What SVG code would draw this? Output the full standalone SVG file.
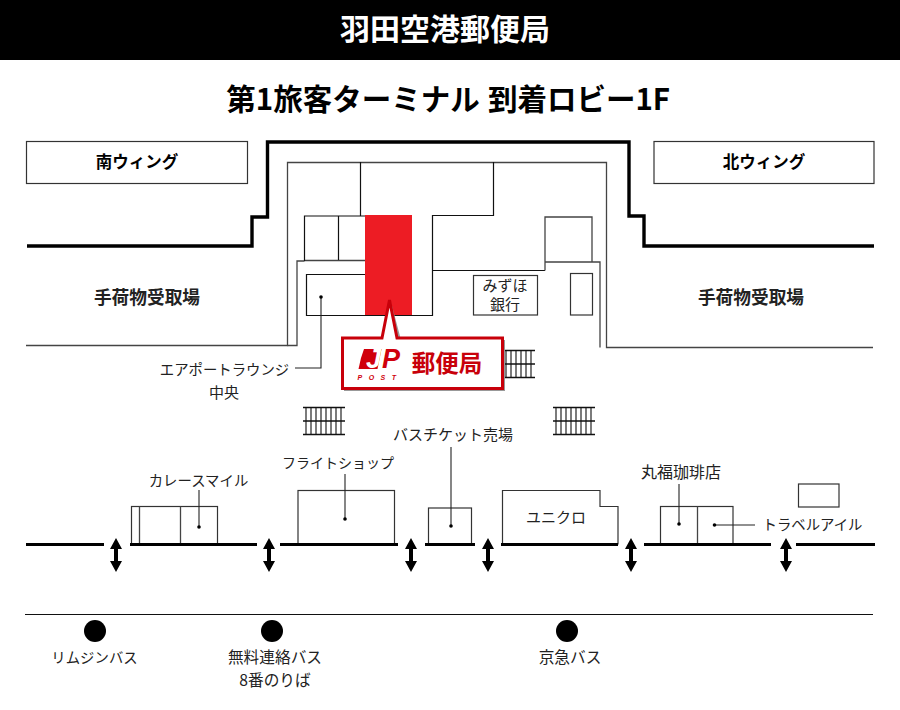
<svg xmlns="http://www.w3.org/2000/svg" width="900" height="710" viewBox="0 0 900 710">
<style>
text{font-family:"Noto Sans CJK JP","Noto Sans",sans-serif;fill:#222;font-size:14.400px;text-anchor:middle}
.b{font-weight:700;fill:#000}
.m{font-size:15.700px}
.h{font-weight:700;font-size:17.700px}
.wing{font-weight:700;fill:#000;font-size:16.500px}
.w{fill:none;stroke:#111;stroke-width:1.2}
.g{fill:none;stroke:#444;stroke-width:1.300}
.t{fill:none;stroke:#000;stroke-width:3.400}
.l{fill:none;stroke:#222;stroke-width:1.100}
.box{fill:#fff;stroke:#333;stroke-width:1.200}
.d{fill:#000}
</style>
<defs>
<g id="arrow"><path d="M0 0L6 11H2V23H6L0 34L-6 23H-2V11H-6Z" fill="#000"/></g>
<g id="stairs" fill="none" stroke="#111" stroke-width="1.100">
<path d="M0 .5H42M0 14H42M0 27.500H42" stroke-width="1.300"/>
<path d="M3 0V27M8 0V27M13 0V27M18 0V27M23 0V27M28 0V27M33 0V27M38 0V27"/>
</g>
</defs>
<rect width="900" height="60" fill="#000"/>
<text x="445" y="40" class="b" style="font-size:30px;fill:#fff">羽田空港郵便局</text>
<text x="353" y="110" class="b" style="font-size:29.500px">第1旅客ターミナル</text>
<text x="579" y="110" class="b" style="font-size:29.500px">到着ロビー1F</text>

<g id="south-wing"><rect x="26.500" y="141.500" width="221" height="42" class="box"/><text x="137" y="168" class="wing">南ウィング</text></g>
<g id="north-wing"><rect x="654" y="141.500" width="220" height="42" class="box"/><text x="764" y="168" class="wing">北ウィング</text></g>

<g id="terminal-walls">
<path class="t" d="M27 246H252V217H267.500V142H629V216H644V246H874"/>
<path class="g" d="M26 345.500H287.500V162.500H606.500V347.500H873"/>
<path class="w" d="M360.500 162V216M493.500 162V215.500H432.500V315.500H306.500V274.500H365"/>
<path class="g" d="M287.500 345.500H297V261H304.500M304.500 260.500H365"/>
<path class="w" d="M304.500 261V216H365M338.500 216V260"/>
<path class="w" d="M432.500 270.500H545"/>
<path class="g" d="M545 270.500V217H592V262M545 262H600V347.500"/>
</g>
<g id="baggage-left"><text x="147" y="304" class="h">手荷物受取場</text></g>
<g id="baggage-right"><text x="751" y="304" class="h">手荷物受取場</text></g>
<g id="mizuho"><rect x="473.500" y="275.500" width="64" height="39.500" class="box"/><text x="505" y="291" style="font-size:15px">みずほ</text><text x="505" y="310" style="font-size:15px">銀行</text></g>
<rect id="small-room" x="570.500" y="273.500" width="22" height="41.500" class="box"/>
<rect id="post-office-area" x="365" y="215" width="47" height="100" fill="#ed1c24"/>

<g id="stairs-set"><use href="#stairs" x="303" y="407"/><use href="#stairs" x="553" y="407"/><use href="#stairs" x="493" y="350"/></g>

<g id="lounge"><text x="224.500" y="375">エアポートラウンジ</text><text x="224" y="398" style="font-size:15px">中央</text></g>
<g id="curry"><rect x="131.500" y="506.500" width="86" height="38" class="box"/><path class="g" d="M139.500 506.500V544M180.500 506.500V544"/><text x="198.500" y="486">カレースマイル</text></g>
<g id="flight-shop"><rect x="298" y="490.500" width="96.500" height="54" class="box"/><text x="338" y="468" style="font-size:14px">フライトショップ</text></g>
<g id="bus-ticket"><rect x="428.500" y="508" width="43" height="36" class="box"/><text x="453" y="440" style="font-size:15px">バスチケット売場</text></g>
<g id="uniqlo"><path class="box" d="M502.500 544V490.500H600V506.500H618V544Z"/><text x="556" y="523" style="font-size:15px">ユニクロ</text></g>
<g id="marufuku"><rect x="660.500" y="506.500" width="72.500" height="38" class="box"/><path class="g" d="M697.500 506.500V544"/><text x="681" y="478" style="font-size:16px">丸福珈琲店</text></g>
<g id="travel-isle"><text x="812.500" y="530">トラベルアイル</text></g>
<rect id="kiosk" x="798.500" y="484" width="40.500" height="23" class="box"/>

<g id="connectors">
<path class="l" d="M321 297V368H295"/><circle cx="321" cy="297" r="1.800" class="d"/>
<path class="l" d="M199 490V527"/><circle cx="199" cy="527" r="1.800" class="d"/>
<path class="l" d="M345 474V519"/><circle cx="345" cy="519" r="1.800" class="d"/>
<path class="l" d="M451 447V526"/><circle cx="451" cy="526" r="1.800" class="d"/>
<path class="l" d="M679 484V524"/><circle cx="679" cy="524" r="1.800" class="d"/>
<path class="l" d="M714 525H755"/><circle cx="714.500" cy="525" r="1.800" class="d"/>
</g>

<g id="walkway"><path d="M26 544.500H104M130 544.500H257M280 544.500H398M425 544.500H475M501 544.500H618M644 544.500H771M796 544.500H875" stroke="#000" stroke-width="3" fill="none"/></g>
<g id="doors"><use href="#arrow" x="116" y="538"/><use href="#arrow" x="269" y="538"/><use href="#arrow" x="411" y="538"/><use href="#arrow" x="488" y="538"/><use href="#arrow" x="631" y="538"/><use href="#arrow" x="786" y="538"/></g>
<path id="curb" d="M25 614.500H873" stroke="#111" stroke-width="1.100"/>
<g id="bus-limousine"><circle cx="95" cy="631" r="11" fill="#000"/><text x="94.500" y="663">リムジンバス</text></g>
<g id="bus-muryo"><circle cx="272" cy="631" r="11" fill="#000"/><text x="275" y="663" class="m">無料連絡バス</text><text x="275" y="686" class="m">8番のりば</text></g>
<g id="bus-keikyu"><circle cx="567" cy="631" r="11" fill="#000"/><text x="570" y="663" class="m">京急バス</text></g>

<g id="post-office">
<path d="M344 340H397L391 302L401 340H505V391H344Z" fill="#999"/>
<path d="M342.500 338H382L389.500 300L397 338H502.500V388.500H342.500Z" fill="#fff" stroke="#c8000a" stroke-width="3"/>
<path d="M364 349H381.500L377.500 369H358.500L361 358Z" fill="#d0000c"/>
<text x="366" y="368" style="font:italic 700 27px 'Liberation Sans',sans-serif;fill:#d0000c;text-anchor:start"><tspan fill="#fff">J</tspan><tspan dx="1">P</tspan></text>
<text x="380" y="380" style="font:italic 700 7px 'Liberation Sans',sans-serif;fill:#d0000c;letter-spacing:6.500px">POST</text>
<text x="447" y="372" class="b" style="font-size:23.500px;fill:#c8000a">郵便局</text>
</g>
</svg>
